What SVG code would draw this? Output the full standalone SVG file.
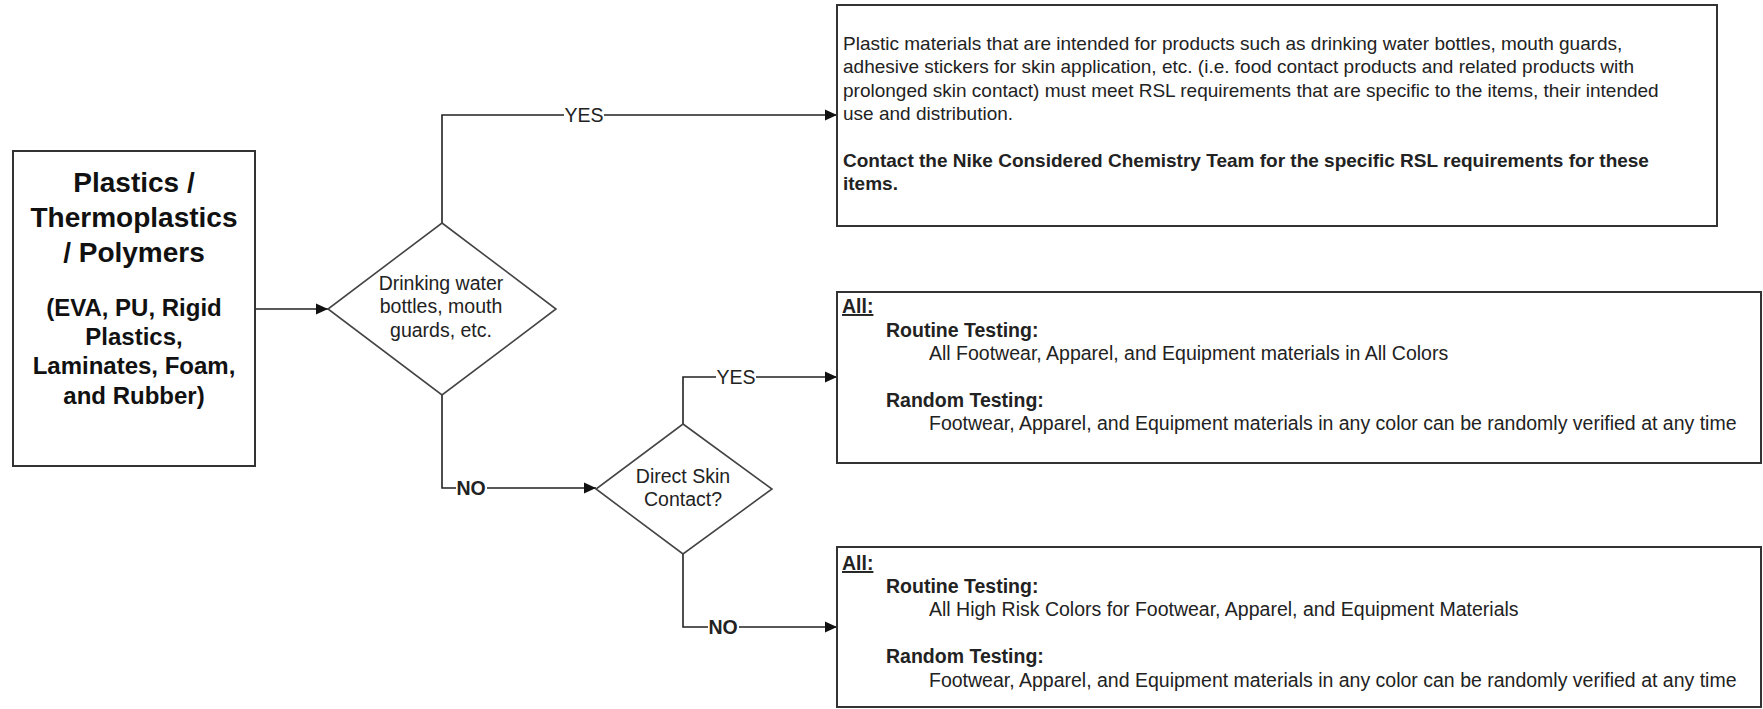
<svg xmlns="http://www.w3.org/2000/svg" width="1763" height="709" viewBox="0 0 1763 709">
<defs>
<marker id="arr" markerUnits="userSpaceOnUse" markerWidth="13" markerHeight="12" refX="12" refY="6" orient="auto">
<path d="M0,0.5 L12,6 L0,11.5 z" fill="#111"/>
</marker>
<style>
.box{fill:#fff;stroke:#333;stroke-width:2}
.dia{fill:#fff;stroke:#444;stroke-width:1.6}
.con{fill:none;stroke:#222;stroke-width:1.6;marker-end:url(#arr)}
text{font-family:"Liberation Sans",Arial,sans-serif;fill:#222}
.t{font-size:19.5px}
.n{font-size:19px}
.b{font-weight:bold}
.title{font-size:28px;font-weight:bold;fill:#111;text-anchor:middle}
.sub{font-size:24px;font-weight:bold;fill:#111;text-anchor:middle}
.c{text-anchor:middle}
.lbl{fill:#fff;stroke:none}
</style>
</defs>

<g id="connectors">
<path class="con" d="M255,309 H328"/>
<path class="con" d="M442,223 V115 H837"/>
<path class="con" d="M442,395 V488 H596"/>
<path class="con" d="M683,424 V377 H837"/>
<path class="con" d="M683,554 V627 H837"/>
<rect class="lbl" x="564" y="106" width="40" height="18"/>
<text class="t c" x="584" y="122">YES</text>
<rect class="lbl" x="716" y="368" width="40" height="18"/>
<text class="t c" x="736" y="384">YES</text>
<rect class="lbl" x="456" y="479" width="31" height="18"/>
<text class="t c b" x="471" y="495">NO</text>
<rect class="lbl" x="708" y="618" width="31" height="18"/>
<text class="t c b" x="723" y="634">NO</text>
</g>

<g id="source">
<rect class="box" x="13" y="151" width="242" height="315"/>
<text class="title" x="134" y="192">Plastics /</text>
<text class="title" x="134" y="227">Thermoplastics</text>
<text class="title" x="134" y="262">/ Polymers</text>
<text class="sub" x="134" y="316">(EVA, PU, Rigid</text>
<text class="sub" x="134" y="345">Plastics,</text>
<text class="sub" x="134" y="374">Laminates, Foam,</text>
<text class="sub" x="134" y="404">and Rubber)</text>
</g>

<g id="decision1">
<path class="dia" d="M442,223 L556,309 L442,395 L328,309 z"/>
<text class="t c" x="441" y="290">Drinking water</text>
<text class="t c" x="441" y="313">bottles, mouth</text>
<text class="t c" x="441" y="337">guards, etc.</text>
</g>

<g id="decision2">
<path class="dia" d="M683,424 L772,489 L683,554 L596,489 z"/>
<text class="t c" x="683" y="483">Direct Skin</text>
<text class="t c" x="683" y="506">Contact?</text>
</g>

<g id="result1">
<rect class="box" x="837" y="5" width="880" height="221"/>
<text class="n" x="843" y="50">Plastic materials that are intended for products such as drinking water bottles, mouth guards,</text>
<text class="n" x="843" y="73">adhesive stickers for skin application, etc. (i.e. food contact products and related products with</text>
<text class="n" x="843" y="97">prolonged skin contact) must meet RSL requirements that are specific to the items, their intended</text>
<text class="n" x="843" y="120">use and distribution.</text>
<text class="n b" x="843" y="167">Contact the Nike Considered Chemistry Team for the specific RSL requirements for these</text>
<text class="n b" x="843" y="190">items.</text>
</g>

<g id="result2">
<rect class="box" x="837" y="292" width="924" height="171"/>
<text class="t b" x="842" y="313" text-decoration="underline">All:</text>
<text class="t b" x="886" y="337">Routine Testing:</text>
<text class="t" x="929" y="360">All Footwear, Apparel, and Equipment materials in All Colors</text>
<text class="t b" x="886" y="407">Random Testing:</text>
<text class="t" x="929" y="430">Footwear, Apparel, and Equipment materials in any color can be randomly verified at any time</text>
</g>

<g id="result3">
<rect class="box" x="837" y="547" width="924" height="160"/>
<text class="t b" x="842" y="570" text-decoration="underline">All:</text>
<text class="t b" x="886" y="593">Routine Testing:</text>
<text class="t" x="929" y="616">All High Risk Colors for Footwear, Apparel, and Equipment Materials</text>
<text class="t b" x="886" y="663">Random Testing:</text>
<text class="t" x="929" y="687">Footwear, Apparel, and Equipment materials in any color can be randomly verified at any time</text>
</g>
</svg>
